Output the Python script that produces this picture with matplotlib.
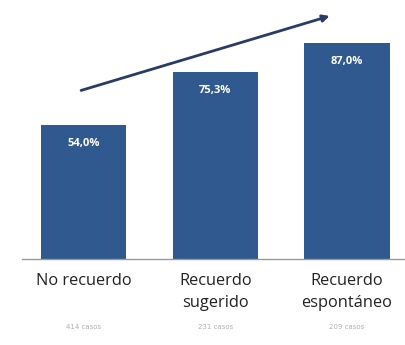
import matplotlib
matplotlib.use("Agg")
from matplotlib import pyplot as plt

# data
categories = ["No recuerdo", "Recuerdo\nsugerido", "Recuerdo\nespontáneo"]
values = [54.0, 75.3, 87.0]
value_labels = ["54,0%", "75,3%", "87,0%"]
base_labels = ["414 casos", "231 casos", "209 casos"]

bar_color = "#30598f"
arrow_color = "#2a3b66"

fig = plt.figure(figsize=(4.06, 3.45), dpi=100)
ax = fig.add_axes([0.054, 0.249, 0.946, 0.719])

x = list(range(len(categories)))
bars = ax.bar(x, values, width=0.65, color=bar_color, zorder=2)

# value labels inside the top of each bar
for rect, lab in zip(bars, value_labels):
    ax.text(rect.get_x() + rect.get_width() / 2, rect.get_height() - 5, lab,
            ha="center", va="top", color="white", fontsize=8, fontweight="bold",
            family="Open Sans")

ax.set_xlim(-0.47, 2.45)
ax.set_ylim(0, 100)

# trend arrow
ax.annotate("", xy=(1.87, 98), xytext=(-0.02, 68),
            arrowprops=dict(arrowstyle="-|>", color=arrow_color, lw=2,
                            mutation_scale=10, shrinkA=0, shrinkB=0))

# category labels and case counts under the axis
for xi, cat, base in zip(x, categories, base_labels):
    ax.text(xi, -5.5, cat, ha="center", va="top", fontsize=11.8,
            family="Open Sans", color="#222222", linespacing=1.5,
            clip_on=False)
    ax.text(xi, -27.5, base, ha="center", va="center", fontsize=5,
            color="#b0b0b0", clip_on=False)

for side in ["top", "right", "left"]:
    ax.spines[side].set_visible(False)
ax.spines["bottom"].set_color("#999999")
ax.spines["bottom"].set_linewidth(1)
ax.set_xticks([])
ax.set_yticks([])

fig.savefig("out.png", dpi=100)
